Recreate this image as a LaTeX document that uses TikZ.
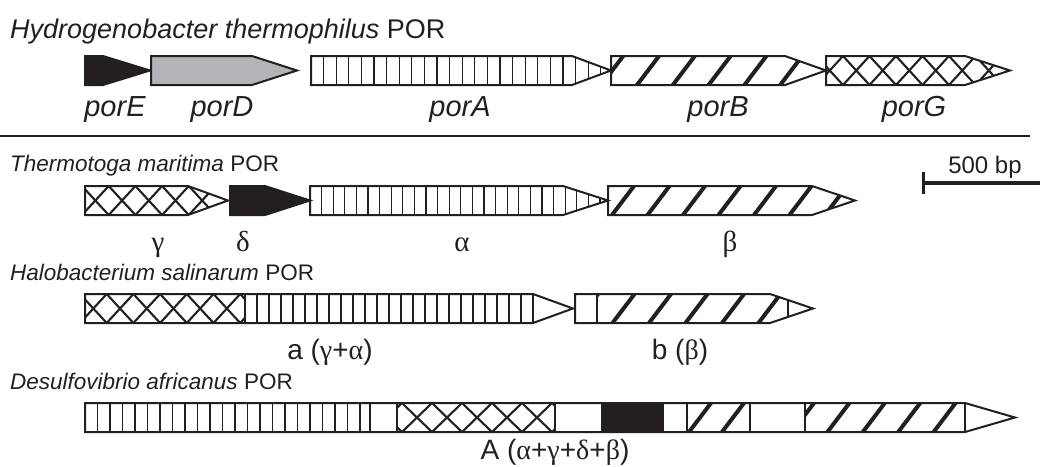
\documentclass[tikz,border=0pt]{standalone}
\usepackage{fontspec}
\setmainfont{Liberation Sans}
\newfontfamily\grk{Liberation Serif}
\definecolor{ink}{HTML}{231F20}
\definecolor{gry}{HTML}{B3B4B7}
% gene arrow outline: x start, box end, tip, top
\newcommand\shp[4]{(#1,#4) -- (#2,#4) -- (#3,{#4+14.5}) -- (#2,{#4+29}) -- (#1,{#4+29}) -- cycle}
% vertical stripes: from, to, top, step
\newcommand\vst[4]{\pgfmathtruncatemacro\nn{(#2-#1)/#4}\foreach \k in {1,...,\nn}{\draw[vl] ({#1+\k*#4},{#3-2}) -- ++(0,33);}}
% diagonal stripes: first bottom x, to, top, spacing
\newcommand\dst[4]{\pgfmathtruncatemacro\nn{(#2-#1)/#4+1}\foreach \k in {-1,...,\nn}{\draw[dg] ({#1+\k*#4-3.03},{#3+33}) -- ++(28.07,-37);}}
% crosshatch: first bottom vertex x, to, top, period
\newcommand\xst[4]{\pgfmathtruncatemacro\nn{(#2-#1)/#4+1}\foreach \k in {-1,...,\nn}{\draw[xh] ({#1+\k*#4},{#3+29}) -- ++(#4,-29); \draw[xh] ({#1+\k*#4},#3) -- ++(#4,29);}}
\begin{document}
\begin{tikzpicture}[x=1pt,y=-1pt,
  outl/.style={draw=ink,line width=2pt,line join=miter},
  vl/.style={draw=ink,line width=1.3pt},
  dg/.style={draw=ink,line width=4pt},
  xh/.style={draw=ink,line width=2.1pt},
  sep/.style={draw=ink,line width=1.5pt},
  ttl/.style={anchor=base west,inner sep=0pt,text=ink,font=\fontsize{22.5}{26}\selectfont},
  lbl/.style={anchor=base,inner sep=0pt,text=ink,font=\fontsize{29}{32}\selectfont\itshape},
  glbl/.style={anchor=base,inner sep=0pt,text=ink,font=\fontsize{28}{30}\selectfont},
  gsym/.style={anchor=base,inner sep=0pt,text=ink,font=\fontsize{29}{30}\grk}]
\useasboundingbox (0,0) rectangle (1043,466);

% ---------- titles
\node[ttl,font=\fontsize{27}{30}\selectfont] (t1) at (10,38) {\textit{Hydrogenobacter thermophilus} POR};
\node[ttl] (t2) at (10,171) {\textit{Thermotoga maritima} POR};
\node[ttl] (t3) at (10,280) {\textit{Halobacterium salinarum} POR};
\node[ttl] (t4) at (10,389) {\textit{Desulfovibrio africanus} POR};

% ---------- row 1 (top 56)
\fill[ink] \shp{85}{103}{150}{56};
\draw[outl] \shp{85}{103}{150}{56};
\draw[outl,fill=gry] \shp{151}{252}{297}{56};
\begin{scope}\clip \shp{311}{572}{611}{56}; \vst{311}{611}{56}{12.6} \end{scope}
\draw[outl] \shp{311}{572}{611}{56};
\begin{scope}\clip \shp{611}{785}{826}{56}; \dst{637}{826}{56}{35.8} \end{scope}
\draw[outl] \shp{611}{785}{826}{56};
\begin{scope}\clip \shp{826}{965}{1010}{56}; \xst{816.5}{1010}{56}{26.5} \end{scope}
\draw[outl] \shp{826}{965}{1010}{56};

\node[lbl] (porE) at (115,116) {porE};
\node[lbl] (porD) at (222,116) {porD};
\node[lbl] (porA) at (460,116) {porA};
\node[lbl] (porB) at (718,116) {porB};
\node[lbl] (porG) at (914,116) {porG};

\coordinate (hl1) at (0,136);
\coordinate (hl2) at (1030,136);
\draw[draw=ink,line width=2pt] (hl1) -- (hl2);

% ---------- scale bar
\coordinate (sb1) at (923,183);
\coordinate (sb2) at (1040,183);
\coordinate (sbt1) at (923,172);
\coordinate (sbt2) at (923,194);
\draw[draw=ink,line width=4pt] (sb1) -- (sb2);
\draw[draw=ink,line width=3pt] (sbt1) -- (sbt2);
\node[glbl,font=\fontsize{24}{28}\selectfont] (bp) at (985,173) {500 bp};

% ---------- row 2 (top 186)
\begin{scope}\clip \shp{85}{188}{228}{186}; \xst{82}{228}{186}{26.7} \end{scope}
\draw[outl] \shp{85}{188}{228}{186};
\draw[outl,fill=ink] \shp{230}{265}{310}{186};
\begin{scope}\clip \shp{310}{563}{608}{186}; \vst{310}{608}{186}{11.6} \end{scope}
\draw[outl] \shp{310}{563}{608}{186};
\begin{scope}\clip \shp{608}{812}{855}{186}; \dst{612}{855}{186}{35.5} \end{scope}
\draw[outl] \shp{608}{812}{855}{186};

\node[gsym] (gam) at (158,251) {γ};
\node[gsym] (del) at (243,251) {δ};
\node[gsym] (alp) at (462,251) {α};
\node[gsym] (bet) at (730,251) {β};

% ---------- row 3 (top 294)
\begin{scope}\clip (85,294) rectangle (245,323); \xst{80}{245}{294}{26.7} \end{scope}
\begin{scope}\clip (245,294) rectangle (533,323); \vst{245}{533}{294}{12} \end{scope}
\draw[sep] (245,294) -- (245,323);
\draw[sep] (533,294) -- (533,323);
\draw[outl] \shp{85}{533}{573}{294};
\begin{scope}\clip \shp{575}{770}{813}{294}; \clip (597,290) rectangle (788,327); \dst{576}{788}{294}{36.5} \end{scope}
\begin{scope}\clip \shp{575}{770}{813}{294};
  \draw[sep] (597,290) -- (597,327);
  \draw[sep] (788,290) -- (788,327);
\end{scope}
\draw[outl] \shp{575}{770}{813}{294};

\node[glbl] (la) at (330,359) {a ({\grk γ}+{\grk α})};
\node[glbl] (lb) at (680,359) {b ({\grk β})};

% ---------- row 4 (top 403)
\begin{scope}\clip (85,403) rectangle (370,432); \vst{85}{370}{403}{12.5} \end{scope}
\begin{scope}\clip (397,403) rectangle (555,432); \xst{372}{555}{403}{30} \end{scope}
\fill[ink] (602,403) rectangle (663,432);
\begin{scope}\clip (687,403) rectangle (750,432); \dst{689}{750}{403}{33} \end{scope}
\begin{scope}\clip (805,403) rectangle (965,432); \dst{792}{965}{403}{35.4} \end{scope}
\foreach \xx in {370,397,555,602,663,687,750,805,965}{\draw[sep] (\xx,403) -- (\xx,432);}
\draw[outl] \shp{85}{965}{1015}{403};

\node[glbl] (lA) at (555,459) {A ({\grk α}+{\grk γ}+{\grk δ}+{\grk β})};
\end{tikzpicture}
\end{document}
